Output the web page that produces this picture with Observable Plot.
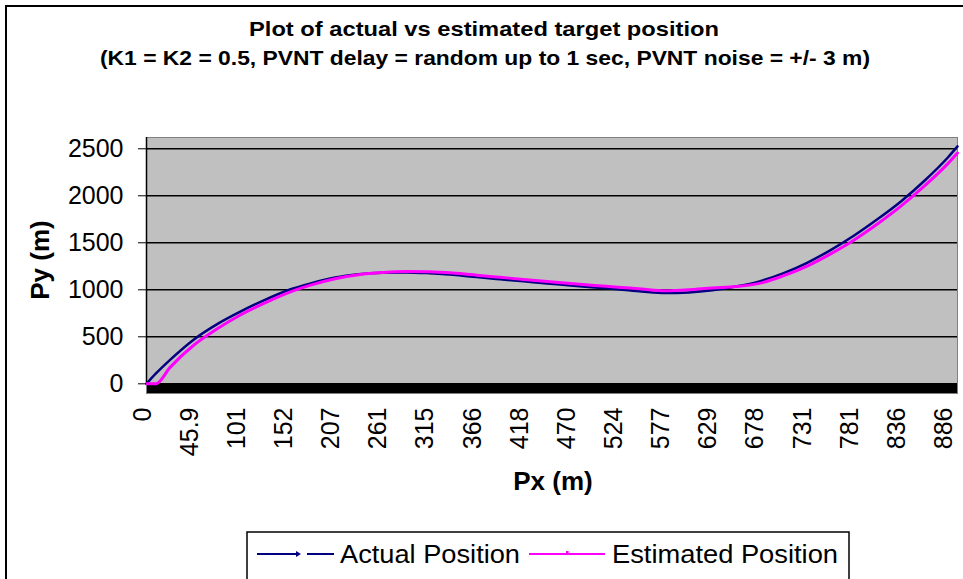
<!DOCTYPE html>
<html>
<head>
<meta charset="utf-8">
<script src="https://cdn.jsdelivr.net/npm/d3@7"></script>
<script src="https://cdn.jsdelivr.net/npm/@observablehq/plot@0.6"></script>
<style>
  html, body { margin: 0; padding: 0; background: #fff; }
  body { width: 963px; height: 579px; overflow: hidden; position: relative; font-family: "Liberation Sans", Arial, sans-serif; }
  #frameBox { position: absolute; left: 5px; top: 5px; width: 1000px; height: 640px; border: 2px solid #000; box-sizing: border-box; }
  #chart { position: absolute; left: 0; top: 0; }
  #overlay { position: absolute; left: 0; top: 0; }
</style>
</head>
<body>
<div id="frameBox"></div>
<div id="chart"></div>
<svg id="overlay" width="963" height="579" xmlns="http://www.w3.org/2000/svg"></svg>
<script>
// ---- data ----
const pxLabels = ["0","45.9","101","152","207","261","315","366","418","470","524","577","629","678","731","781","836","886"];
const labelIndex = [0,10,20,30,40,50,60,70,80,90,100,110,120,130,140,150,160,170];
const categoryCount = 173;
const sampleIndex = [0,2,5,10,15,20,25,30,35,40,45,50,55,60,65,70,75,80,85,90,95,100,105,110,115,120,125,130,135,140,145,150,155,160,165,170,172];
const actualPy    = [0,110,255,470,635,770,890,995,1070,1130,1165,1182,1185,1176,1160,1135,1112,1090,1068,1045,1025,1005,982,965,972,995,1035,1090,1175,1285,1420,1575,1750,1940,2160,2410,2525];
const estimatedPy = [0,0,175,410,585,735,858,968,1052,1117,1160,1183,1195,1192,1178,1156,1133,1110,1088,1066,1046,1028,1008,990,1000,1020,1035,1068,1148,1250,1380,1528,1700,1890,2105,2345,2455];
const yTicks = [0,500,1000,1500,2000,2500];
const seriesNames = ["Actual Position","Estimated Position"];
const seriesColors = ["#000080","#ff00ff"];

const actualData = sampleIndex.map((i, k) => ({i, v: actualPy[k]}));
const estimatedData = sampleIndex.map((i, k) => ({i, v: estimatedPy[k]}));
const categoryIndex = d3.range(categoryCount);
const labelMap = new Map(labelIndex.map((d, k) => [d, pxLabels[k]]));

const yLow = -103, yHigh = 2620;

const chart = Plot.plot({
  width: 963,
  height: 520,
  marginLeft: 146,
  marginRight: 6,
  marginTop: 137,
  marginBottom: 127,
  x: {type: "linear", domain: [0, categoryCount - 1]},
  y: {domain: [yLow, yHigh]},
  style: {fontFamily: "'Liberation Sans', Arial, sans-serif", fontSize: "25px", color: "black", background: "transparent"},
  marks: [
    Plot.frame({fill: "#c0c0c0"}),
    Plot.gridY(yTicks, {stroke: "#000", strokeOpacity: 1, strokeWidth: 1.5}),
    Plot.ruleX(categoryIndex, {x: d => d, y1: yLow, y2: 0, stroke: "#000", strokeWidth: 7, clip: true}),
    Plot.frame({stroke: "#808080", strokeWidth: 1}),
    Plot.ruleX([0], {y1: 0, y2: yHigh, stroke: "#000", strokeWidth: 1.5}),
    Plot.line(actualData, {x: "i", y: "v", stroke: seriesColors[0], strokeWidth: 2.5, curve: "monotone-x"}),
    Plot.line(estimatedData, {x: "i", y: "v", stroke: seriesColors[1], strokeWidth: 3, curve: "monotone-x"}),
    Plot.axisY(yTicks, {tickSize: 8, tickPadding: 15, label: null, stroke: "#000", tickFormat: d => String(d)}),
    Plot.axisX(labelIndex, {tickSize: 0, tickPadding: 14, tickRotate: -90, dx: -4, tickFormat: d => labelMap.get(d), label: null})
  ]
});
document.getElementById("chart").appendChild(chart);

// ---- titles, axis titles and legend ----
const ov = d3.select("#overlay");
const ff = "'Liberation Sans', Arial, sans-serif";
ov.append("text").attr("x", 484).attr("y", 36).attr("text-anchor", "middle")
  .attr("font-family", ff).attr("font-weight", "bold").attr("font-size", 21)
  .attr("textLength", 470).attr("lengthAdjust", "spacingAndGlyphs")
  .text("Plot of actual vs estimated target position");
ov.append("text").attr("x", 485).attr("y", 65).attr("text-anchor", "middle")
  .attr("font-family", ff).attr("font-weight", "bold").attr("font-size", 21)
  .attr("textLength", 770).attr("lengthAdjust", "spacingAndGlyphs")
  .text("(K1 = K2 = 0.5, PVNT delay = random up to 1 sec, PVNT noise = +/- 3 m)");
ov.append("text").attr("transform", "translate(49,260) rotate(-90)").attr("text-anchor", "middle")
  .attr("font-family", ff).attr("font-weight", "bold").attr("font-size", 26)
  .text("Py (m)");
ov.append("text").attr("x", 553).attr("y", 490).attr("text-anchor", "middle")
  .attr("font-family", ff).attr("font-weight", "bold").attr("font-size", 26)
  .text("Px (m)");

// legend
ov.append("rect").attr("x", 247).attr("y", 532).attr("width", 602).attr("height", 60)
  .attr("fill", "#fff").attr("stroke", "#000").attr("stroke-width", 1.5);
// actual
ov.append("line").attr("x1", 257).attr("x2", 298).attr("y1", 554).attr("y2", 554).attr("stroke", seriesColors[0]).attr("stroke-width", 2);
ov.append("path").attr("d", "M296,551 L301,554 L296,557 Z").attr("fill", seriesColors[0]);
ov.append("line").attr("x1", 307).attr("x2", 334).attr("y1", 554).attr("y2", 554).attr("stroke", seriesColors[0]).attr("stroke-width", 2);
ov.append("text").attr("x", 340).attr("y", 563).attr("font-family", ff).attr("font-size", 26)
  .attr("textLength", 180).attr("lengthAdjust", "spacingAndGlyphs").text(seriesNames[0]);
// estimated
ov.append("line").attr("x1", 529).attr("x2", 605).attr("y1", 554).attr("y2", 554).attr("stroke", seriesColors[1]).attr("stroke-width", 2);
ov.append("rect").attr("x", 566).attr("y", 551).attr("width", 2.5).attr("height", 2.5).attr("fill", seriesColors[1]);
ov.append("text").attr("x", 612).attr("y", 563).attr("font-family", ff).attr("font-size", 26)
  .attr("textLength", 226).attr("lengthAdjust", "spacingAndGlyphs").text(seriesNames[1]);
</script>
</body>
</html>
